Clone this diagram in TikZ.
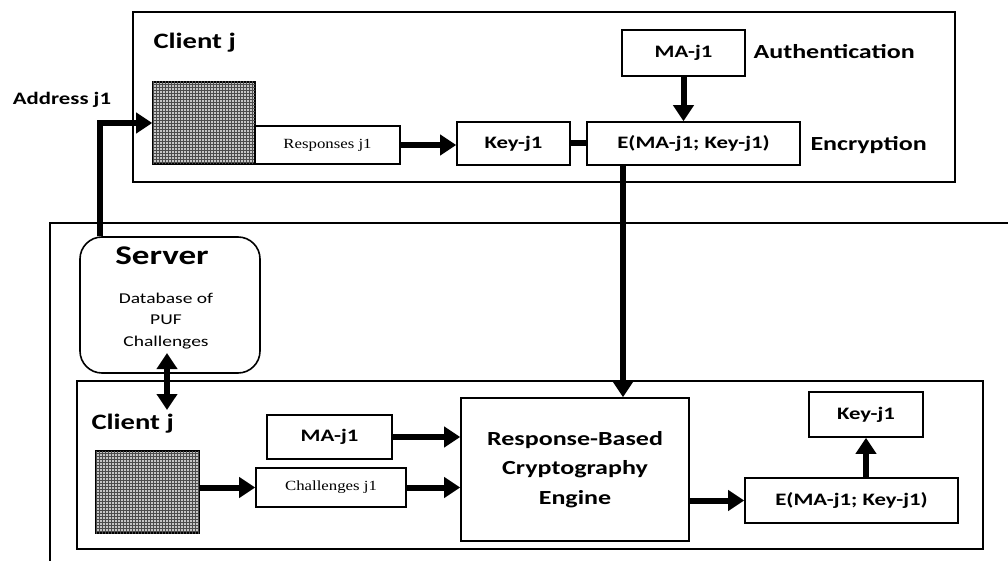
\documentclass[tikz,border=0pt]{standalone}
\usepackage{fontspec}
\setmainfont{Carlito}[FakeStretch=1.3]
\newfontfamily\smallserif{Liberation Serif}[FakeStretch=1.2]
\usetikzlibrary{arrows.meta,patterns}
\tikzset{
  box/.style={draw=black, line width=1.6pt, rectangle, inner sep=0pt, align=center},
  hatchbox/.style={box, fill=gray!45, postaction={pattern=grid, pattern color=black!70}},
  arr/.style={line width=6pt, -{Triangle[length=16pt,width=20pt]}},
  darr/.style={line width=6pt, {Triangle[length=16pt,width=20pt]}-{Triangle[length=16pt,width=20pt]}},
  thick line/.style={line width=6pt},
  lbl/.style={font=\fontsize{20}{24}\selectfont\bfseries},
  boxtxt/.style={font=\fontsize{17.5}{22}\selectfont\bfseries},
  smalltxt/.style={font=\smallserif\fontsize{14}{16}\selectfont}
}
\begin{document}
\begin{tikzpicture}[x=1pt,y=-1pt]
\useasboundingbox (0,0) rectangle (1008,561);
% server outer frame (open to the right and bottom)
\draw[line width=1.6pt] (50,561) -- (50,223) -- (1008,223);
% top client box
\node[box, minimum width=822pt, minimum height=170pt] (top) at (544,97) {};
\node[font=\fontsize{22}{26}\selectfont\bfseries, anchor=west] (clienttop) at (150,43) {Client j};
\node[hatchbox, minimum width=102pt, minimum height=82pt] (hatch1) at (204,123) {};
\node[box, smalltxt, minimum width=145pt, minimum height=38pt] (resp) at (327.5,145) {Responses j1};
\node[box, boxtxt, minimum width=113pt, minimum height=43pt] (key1) at (513.5,143.5) {Key-j1};
\node[box, boxtxt, minimum width=213pt, minimum height=43pt] (e1) at (693.5,143.5) {E(MA-j1; Key-j1)};
\node[box, boxtxt, minimum width=123pt, minimum height=46pt] (ma1) at (683.5,53) {MA-j1};
\node[lbl, anchor=west] (auth) at (750,52) {Authentication};
\node[lbl, anchor=west] (enc) at (807,145) {Encryption};
\node[font=\fontsize{17.5}{22}\selectfont\bfseries] (addr) at (62,100) {Address j1};
% server
\node[box, rounded corners=22pt, minimum width=180pt, minimum height=136pt] (server) at (170,305) {};
\node[font=\fontsize{27}{32}\selectfont\bfseries] (servertitle) at (162,256) {Server};
\node[font=\fontsize{15}{21.5}\selectfont, align=center] (db) at (166,321) {Database of\\PUF\\Challenges};
% lower client box
\node[box, minimum width=906pt, minimum height=168pt] (low) at (530,465) {};
\node[font=\fontsize{22}{26}\selectfont\bfseries, anchor=west] (clientlow) at (88,424) {Client j};
\node[hatchbox, minimum width=103pt, minimum height=82pt] (hatch2) at (147.5,492) {};
\node[box, boxtxt, minimum width=125pt, minimum height=44pt] (ma2) at (329.5,437) {MA-j1};
\node[box, smalltxt, minimum width=150pt, minimum height=39pt] (chal) at (331,487.5) {Challenges j1};
\node[box, font=\fontsize{20}{29.5}\selectfont\bfseries, minimum width=228pt, minimum height=143pt] (engine) at (575,469.5) {Response-Based\\Cryptography\\Engine};
\node[box, boxtxt, minimum width=213pt, minimum height=45pt] (e2) at (851.5,500.5) {E(MA-j1; Key-j1)};
\node[box, boxtxt, minimum width=114pt, minimum height=45pt] (key2) at (866,414.5) {Key-j1};
% connectors
\coordinate (bend) at (100,123);
\draw[arr] (bend |- server.north) -- (bend) -- (hatch1.west);
\draw[arr] (resp.east) -- (key1.west |- resp.east);
\draw[thick line] (key1.east) -- (e1.west);
\draw[arr] (ma1.south) -- (ma1.south |- e1.north);
\coordinate (vx) at (623,0);
\draw[arr] (vx |- e1.south) -- (vx |- engine.north);
\coordinate (dx) at (167,353);
\coordinate (dy) at (167,410);
\draw[darr] (dx) -- (dy);
\draw[arr] (hatch2.east |- chal.west) -- (chal.west);
\draw[arr] (ma2.east) -- (engine.west |- ma2.east);
\draw[arr] (chal.east) -- (engine.west |- chal.east);
\draw[arr] (engine.east |- e2.west) -- (e2.west);
\draw[arr] (e2.north -| key2.south) -- (key2.south);
\end{tikzpicture}
\end{document}
